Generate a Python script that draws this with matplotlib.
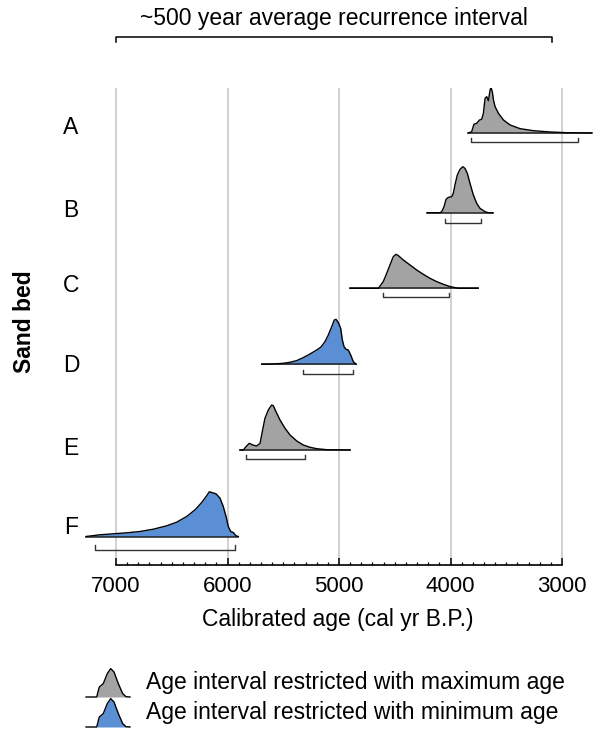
import matplotlib
matplotlib.use("Agg")
import matplotlib.pyplot as plt
import numpy as np

plt.rcParams['font.family'] = ['Liberation Sans', 'DejaVu Sans']

# sand beds, top to bottom
beds = ['A', 'B', 'C', 'D', 'E', 'F']
# 'max' = restricted with maximum age (grey), 'min' = restricted with minimum age (blue)
kinds = ['max', 'max', 'max', 'min', 'max', 'min']

# probability curves (age in cal yr B.P., relative probability)
a_age = [3840, 3810, 3790, 3765, 3740, 3720, 3705, 3690, 3675, 3660, 3645, 3637,
         3625, 3615, 3600, 3570, 3525, 3465, 3375, 3255, 3105, 2960, 2735]
a_prob = [0, 1.3, 8.7, 9.7, 13, 13.7, 19.7, 34.7, 36.3, 32.3, 43, 45.7,
          41.3, 33, 26.3, 19.7, 13, 8, 4.3, 2.3, 1, 0.3, 0]

b_age = [4208, 4094, 4079, 4058, 4040, 4020, 3989, 3975, 3960, 3939, 3915,
         3890, 3870, 3849, 3825, 3795, 3765, 3735, 3690, 3661, 3621]
b_prob = [0, 0, 1, 6, 13.3, 15.3, 16, 19.3, 27.7, 37.7, 43.3,
          46, 44.3, 39.3, 29.3, 17.7, 9.3, 4.3, 1, 0, 0]

c_age = [4901, 4647, 4632, 4603, 4572, 4543, 4513, 4489, 4468, 4423,
         4363, 4303, 4244, 4184, 4124, 4064, 4004, 3930, 3751]
c_prob = [0, 0, 2.3, 6.7, 15, 23.3, 31.7, 34, 32.7, 28.3,
          23.3, 18.3, 14, 10, 6.7, 4, 1.7, 0, 0]

d_age = [5693, 5589, 5500, 5439, 5379, 5320, 5260, 5200, 5164, 5125, 5096, 5065,
         5042, 5027, 5006, 4985, 4970, 4955, 4937, 4917, 4895, 4872, 4847]
d_prob = [0, 0.3, 1, 2, 3.7, 6.7, 10.3, 14.3, 17, 22.7, 29.3, 37.7,
          44.3, 45, 41.7, 36, 24.3, 17.7, 15, 14.3, 9.3, 2.7, 0]

e_age = [5888, 5858, 5834, 5804, 5774, 5738, 5708, 5688, 5664, 5634, 5604,
         5589, 5565, 5529, 5484, 5439, 5379, 5320, 5260, 5200, 5110, 4901]
e_prob = [0, 0, 3.3, 6.7, 5, 4, 6.7, 18.3, 31.7, 40, 45,
          44.3, 38.3, 30, 21.7, 15, 9, 5, 2.7, 1.3, 0.3, 0]

f_age = [7269, 7144, 7024, 6904, 6785, 6665, 6545, 6456, 6366, 6291, 6231, 6187,
         6163, 6142, 6103, 6067, 6038, 6013, 5993, 5971, 5948, 5924, 5903]
f_prob = [0, 1.7, 2.7, 3.7, 5, 7.3, 10.7, 14.3, 20, 26.7, 34, 40.7,
          44.7, 44, 42.7, 38.3, 30, 20, 10, 5, 4, 0.7, 0]

ages = [a_age, b_age, c_age, d_age, e_age, f_age]
probs = [a_prob, b_prob, c_prob, d_prob, e_prob, f_prob]

# age intervals shown by the brackets under each curve
interval_old = [3815, 4050, 4603, 5326, 5834, 7188]
interval_young = [2860, 3726, 4010, 4872, 5305, 5933]

recurrence_span = (7000, 3090)
major_ticks = [7000, 6000, 5000, 4000, 3000]

# legend icon profile (small peak)
icon_x = [0, 10.7, 13.3, 17.3, 21.3, 24.7, 28, 32.3, 36.7, 40, 44]
icon_y = [0, 0, 10, 13.4, 23.4, 28.4, 25, 13.4, 3.4, 0.3, 0]

colors = {'max': '#a3a3a3', 'min': '#5b8fd5'}

# ---- layout (pixel-like units, y measured up from the bottom spine) ----
baselines = [432, 352.3, 276.7, 200.7, 115, 28.5]
bracket_top = [5, 6.5, 5, 5.7, 4.5, 8.5]
bracket_bot = [9, 10, 9, 10, 9, 13.5]
label_base = [134, 217, 292, 372, 455, 534]   # figure pixels from top

W, H = 596, 737
fig = plt.figure(figsize=(W / 100, H / 100), dpi=100)
ax = fig.add_axes([80 / W, (H - 565) / H, 516 / W, 477 / H])
px = 1000 / 111.5
ax.set_xlim(7000 + 36 * px, 7000 - 480 * px)
ax.set_ylim(0, 477)

for bed, kind, age, prob, base, y0, y1, a0, a1, bt, bb in zip(
        beds, kinds, ages, probs, baselines, interval_old, interval_young,
        baselines, baselines, bracket_top, bracket_bot):
    age = np.array(age)
    top = base + np.array(prob)
    ax.fill_between(age, base, top, color=colors[kind], lw=0, zorder=2)
    ax.plot([age[0], age[-1]], [base, base], color='#222222', lw=1.1, zorder=3)
    ax.plot(age, top, color='black', lw=1.0, zorder=4)
    ax.plot([y0, y0, y1, y1], [base - bt, base - bb, base - bb, base - bt],
            color='#333333', lw=1.0, zorder=3)

for b, yb in zip(beds, label_base):
    fig.text(71 / W, 1 - yb / H, b, ha='center', va='baseline', fontsize=16.5)

fig.text(25 / W, 1 - 322 / H, 'Sand bed', rotation=90, ha='center', va='center',
         fontsize=16.5, fontweight='bold')

# axis styling
for s in ['left', 'right', 'top']:
    ax.spines[s].set_visible(False)
ax.spines['bottom'].set_bounds(3000, 7000)
ax.spines['bottom'].set_linewidth(1.2)
ax.set_yticks([])
ax.set_xticks(major_ticks)
ax.set_xticks(np.arange(3000, 7001, 100), minor=True)
ax.tick_params(axis='x', which='major', direction='in', length=5, width=1.1,
               pad=8, labelsize=16)
ax.tick_params(axis='x', which='minor', direction='in', length=2.5, width=0.9)
ax.grid(axis='x', which='major', color='#c8c8c8', lw=1.2)
ax.set_axisbelow(True)
ax.set_xlabel('Calibrated age (cal yr B.P.)', fontsize=16.5, labelpad=8)

# recurrence interval bracket and title
r0, r1 = recurrence_span
ax.plot([r0, r0, r1, r1], [477 + 46, 477 + 51, 477 + 51, 477 + 46],
        color='black', lw=1.1, clip_on=False)
ax.text((r0 + r1) / 2, 477 + 69, '~500 year average recurrence interval',
        ha='center', va='center', fontsize=16.5)

# legend
lax = fig.add_axes([0, 0, 1, 100 / H])
lax.set_xlim(0, W)
lax.set_ylim(H, H - 100)
lax.axis('off')
for kind, yb, txt in [('max', 697, 'Age interval restricted with maximum age'),
                      ('min', 727, 'Age interval restricted with minimum age')]:
    ix = 86 + np.array(icon_x)
    iy = yb - np.array(icon_y)
    lax.fill_between(ix, yb, iy, color=colors[kind], lw=0)
    lax.plot(ix, iy, color='black', lw=1.0)
    lax.text(146, yb - 14, txt, ha='left', va='center', fontsize=16.5)

fig.savefig('out.png', dpi=100)
